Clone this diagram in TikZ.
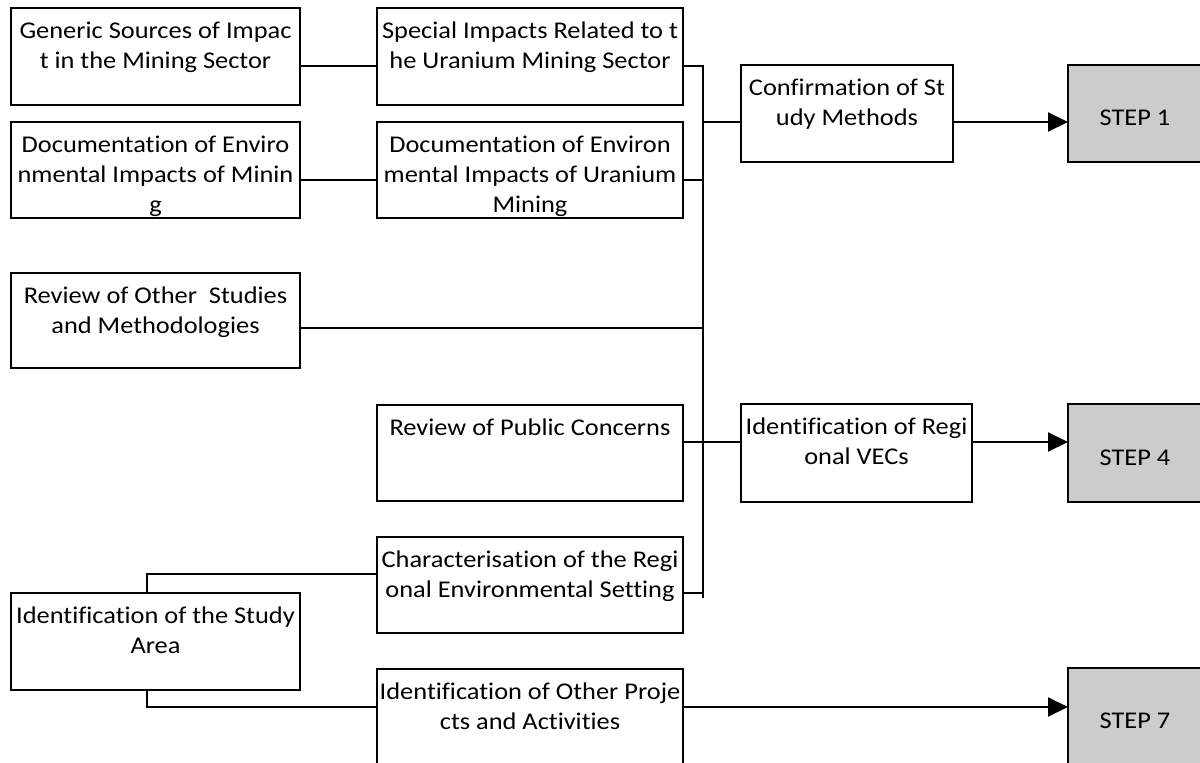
\documentclass[tikz,border=0pt]{standalone}
\usepackage{fontspec}
\setmainfont{Carlito}[FakeStretch=1.1, Ligatures=NoCommon]
\usetikzlibrary{arrows.meta}
\definecolor{stepgray}{HTML}{CCCCCC}
\newcommand{\bxt}[3]{\parbox[c][#2][t]{#1}{\centering\fontsize{24}{30}\selectfont\rule{0pt}{30pt}#3}}
\tikzset{
  box/.style={draw, line width=2pt, inner sep=0pt, outer sep=0pt, anchor=north west},
  stepbox/.style={draw, line width=2pt, fill=stepgray, inner sep=0pt, outer sep=0pt, anchor=north west,
    minimum width=134pt, minimum height=97pt, font=\fontsize{24}{30}\selectfont},
  conn/.style={line width=2pt},
  arr/.style={line width=2pt, -{Triangle[length=20pt,width=19pt]}}
}
\begin{document}
\begin{tikzpicture}[x=1pt,y=-1pt]
\useasboundingbox (0,0) rectangle (1200,763);
\clip (0,0) rectangle (1200,763);
\fill[white] (0,0) rectangle (1200,763);
% left column
\node[box] (A) at (11,8) {\bxt{289pt}{97pt}{Generic Sources of Impac\\t in the Mining Sector}};
\node[box] (B) at (11,122) {\bxt{289pt}{96pt}{Documentation of Enviro\\nmental Impacts of Minin\\g}};
\node[box] (R) at (11,273) {\bxt{289pt}{95pt}{Review of Other\ \ Studies\\and Methodologies}};
\node[box] (SA) at (11,593) {\bxt{289pt}{97pt}{Identification of the Study\\Area}};
% middle column
\node[box] (C) at (377,8) {\bxt{306pt}{97pt}{Special Impacts Related to t\\he Uranium Mining Sector}};
\node[box] (D) at (377,122) {\bxt{306pt}{96pt}{Documentation of Environ\\mental Impacts of Uranium\\Mining}};
\node[box] (PC) at (377,405) {\bxt{306pt}{96pt}{Review of Public Concerns}};
\node[box] (CH) at (377,537) {\bxt{306pt}{96pt}{Characterisation of the Regi\\onal Environmental Setting}};
\node[box] (OP) at (377,669) {\bxt{306pt}{97pt}{Identification of Other Proje\\cts and Activities}};
% right column
\node[box] (CF) at (741,65) {\bxt{212pt}{97pt}{Confirmation of St\\udy Methods}};
\node[box] (VE) at (741,404) {\bxt{231pt}{98pt}{Identification of Regi\\onal VECs}};
% steps
\node[stepbox] (S1) at (1068,65) {\raisebox{-12pt}[0pt][0pt]{STEP 1}};
\node[stepbox, minimum height=98pt] (S4) at (1068,404) {\raisebox{-12pt}[0pt][0pt]{STEP 4}};
\node[stepbox] (S7) at (1068,668) {\raisebox{-12pt}[0pt][0pt]{STEP 7}};
% connector levels
\coordinate (yA) at (0,66);
\coordinate (yB) at (0,180);
\coordinate (yR) at (0,328);
\coordinate (yC) at (0,122);
\coordinate (yP) at (0,442);
\coordinate (yH) at (0,593);
\coordinate (yO) at (0,707);
\coordinate (bt) at (703,66);
\coordinate (bb) at (703,598);
\coordinate (sa1) at (147,574);
\coordinate (sa2) at (147,707);
% connectors
\draw[conn] (A.east |- yA) -- (C.west |- yA);
\draw[conn] (B.east |- yB) -- (D.west |- yB);
\draw[conn] (C.east |- yA) -- (bt) -- (bb);
\draw[conn] (D.east |- yB) -- (bt |- yB);
\draw[conn] (R.east |- yR) -- (bt |- yR);
\draw[conn] (CH.east |- yH) -- (bt |- yH);
\draw[conn] (bt |- yC) -- (CF.west |- yC);
\draw[conn] (PC.east |- yP) -- (VE.west |- yP);
\draw[arr] (CF.east |- yC) -- (S1.west |- yC);
\draw[arr] (VE.east |- yP) -- (S4.west |- yP);
\draw[conn] (SA.north -| sa1) -- (sa1) -- (CH.west |- sa1);
\draw[conn] (SA.south -| sa2) -- (sa2) -- (OP.west |- sa2);
\draw[arr] (OP.east |- yO) -- (S7.west |- yO);
\end{tikzpicture}
\end{document}
